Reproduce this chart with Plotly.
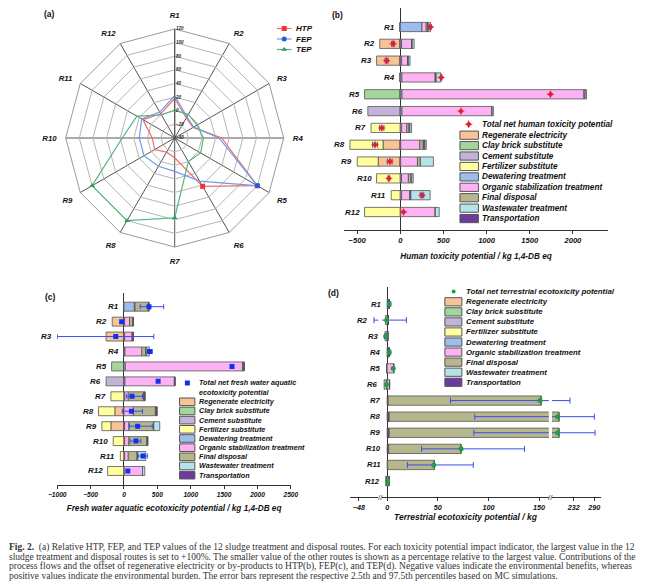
import plotly.graph_objects as go

# page has an 8px body margin: the figure is sized so it fits the 650x586 window
OFF = 8
W, H = 650 - OFF, 586 - OFF
def px(x): return (x - OFF) / W
def py(y): return 1 - (y - OFF) / H

ROUTES = [f"R{i}" for i in range(1, 13)]

# ---------------- (a) relative values (%) ----------------
rel_htp = [18, -6, -9, 29, 100, 42, -11, -16, -6, -7, 14, 1]
rel_fep = [22, -4, -8, 25, 100, 33, 9, 8, 12, 12, 16, 4]
rel_tep = [1, 0, -2, 2, 4, 0, 77, 100, 100, 37, 24, -1]
radial_ticks = [-40, -20, 0, 20, 40, 60, 80, 100, 120]

# ---------------- (b) HTP components ----------------
htp_regen = [0, -238, -275, 0, 0, 0, 0, -200, -256, 0, 0, 0]
htp_clay = [0, 0, 0, 0, -414, 0, 0, 0, 0, 0, 0, 0]
htp_cement = [0, 0, 0, 0, 0, -376, 0, 0, 0, 0, 0, 0]
htp_fert = [0, 0, 0, 0, 0, 0, -339, -384, -243, -275, -105, -414]
htp_dewater = [251, 15, 15, 19, 20, 20, 15, 5, 5, 15, 15, 5]
htp_organic = [49, 116, 71, 387, 2107, 1044, 60, 221, 194, 79, 98, 401]
htp_final = [15, 0, 0, 0, 16, 0, 26, 40, 34, 30, 0, 0]
htp_transport = [10, 8, 8, 10, 0, 0, 10, 20, 0, 8, 10, 0]
htp_wastewater = [25, 22, 19, 55, 15, 15, 20, 15, 151, 18, 223, 45]
htp_total = [350, -83, -158, 474, 1740, 703, -215, -293, -120, -132, 252, 38]
htp_err_lo = [342, -100, -175, 466, None, None, -240, -320, -150, -142, 232, None]
htp_err_hi = [358, -68, -142, 482, None, None, -190, -265, -95, -122, 272, None]

# ---------------- (c) FEP components ----------------
fep_regen = [0, -176, -268, 0, 0, 0, 0, -137, -196, 0, 0, 0]
fep_clay = [0, 0, 0, 0, -185, 0, 0, 0, 0, 0, 0, 0]
fep_cement = [0, 0, 0, 0, 0, -268, 0, 0, 0, 0, 0, 0]
fep_fert = [0, 0, 0, 0, 0, 0, -196, -244, -135, -161, -54, -245]
fep_dewater = [156, 10, 10, 15, 20, 15, 10, 0, 10, 10, 10, 5]
fep_organic = [10, 73, 111, 253, 1755, 741, 55, 141, 63, 63, 55, 273]
fep_final = [200, 50, 10, 59, 20, 0, 230, 330, 375, 268, 130, 0]
fep_transport = [10, 8, 10, 8, 5, 10, 20, 24, 0, 15, 8, 0]
fep_wastewater = [0, 0, 0, 45, 0, 0, 0, 0, 88, 0, 124, 34]
fep_total = [375, -35, -123, 384, 1618, 512, 121, 112, 205, 180, 287, 58]
fep_err_lo = [243, None, -996, 351, None, None, 35, -25, 83, 92, 214, None]
fep_err_hi = [595, None, 447, 424, None, None, 278, 278, 424, 253, 351, None]

# ---------------- (d) TEP components ----------------
tep_regen = [0, -1.5, 0, 0, 0, 0, 0, 0, 0, 0, 0, 0]
tep_clay = [0, 0, 0, 0, -0.5, 0, 0, 0, 0, 0, 0, 0]
tep_cement = [0, 0, -2, 0, 0, -3, 0, 0, 0, 0, 0, -1.5]
tep_fert = [0, 0, 0, 0, 0, 0, 0, 0, 0, 0, 0, 0]
tep_dewater = [1.5, 0, 0, 1, 0, 0, 0, 0, 0, 0, 0, 0]
tep_organic = [0, 0, 0, 0, 6.5, 2.4, 0, 0, 0, 0, 0, 2]
tep_final = [0, 0, 0, 0, 0, 0, 151, 188, 188, 71.5, 46, 0]
tep_transport = [0.5, 1, 0.5, 1, 0, 0, 1, 2, 2, 1.5, 0.5, 0]
tep_wastewater = [0, 0, 0, 0, 0, 0, 0, 0, 0, 0, 0, 0]
tep_total = [2, -0.5, -1.5, 2, 6, -0.6, 151, 186, 186, 73, 46, 0.5]
tep_err_lo = [0.5, -28, -2.5, 0.5, None, None, 62.5, 86.5, 85.6, 34, 20, None]
tep_err_hi = [3.5, 19, -0.5, 3.5, None, None, 221, 290, 292, 135.6, 85, None]

COMPONENTS = ['Regenerate electricity', 'Clay brick substitute', 'Cement substitute',
              'Fertilizer substitute', 'Dewatering treatment', 'Organic stabilization treatment',
              'Final disposal', 'Wastewater treatment', 'Transportation']
COLORS = {
    'Regenerate electricity': '#F8C396',
    'Clay brick substitute': '#A3D69B',
    'Cement substitute': '#C4B3D8',
    'Fertilizer substitute': '#FFFF9E',
    'Dewatering treatment': '#9DBDEE',
    'Organic stabilization treatment': '#FDB2F3',
    'Final disposal': '#B6B78C',
    'Wastewater treatment': '#B5E3E8',
    'Transportation': '#6B3C9E',
}

HTP = dict(zip(COMPONENTS, [htp_regen, htp_clay, htp_cement, htp_fert, htp_dewater,
                            htp_organic, htp_final, htp_wastewater, htp_transport]))
FEP = dict(zip(COMPONENTS, [fep_regen, fep_clay, fep_cement, fep_fert, fep_dewater,
                            fep_organic, fep_final, fep_wastewater, fep_transport]))
TEP = dict(zip(COMPONENTS, [tep_regen, tep_clay, tep_cement, tep_fert, tep_dewater,
                            tep_organic, tep_final, tep_wastewater, tep_transport]))

STACK_BC = ['Regenerate electricity', 'Clay brick substitute', 'Cement substitute',
            'Fertilizer substitute', 'Dewatering treatment', 'Organic stabilization treatment',
            'Final disposal', 'Transportation', 'Wastewater treatment']
STACK_D = ['Transportation', 'Regenerate electricity', 'Clay brick substitute', 'Cement substitute',
           'Fertilizer substitute', 'Dewatering treatment', 'Organic stabilization treatment',
           'Final disposal', 'Wastewater treatment']

FAM = 'Liberation Sans'
def f(size, color='#111'):
    return dict(family=FAM, size=size, color=color, weight='bold', style='italic')

ERR_COL = '#3A4BF0'
OUTLINE = '#555555'

fig = go.Figure()
annotations = []
shapes = []

# ---------------- (a) radar ----------------
def closed(v):
    return v + v[:1]

SERIES_A = [('HTP', rel_htp, '#F26B6B', '#EE3333', 'square'),
            ('FEP', rel_fep, '#6C9BEA', '#1F60DA', 'circle'),
            ('TEP', rel_tep, '#52B67C', '#2A9E5A', 'triangle-up')]
for name, vals, lc, mc, sym in SERIES_A:
    fig.add_trace(go.Scatterpolar(r=closed(vals), theta=closed(ROUTES), mode='lines+markers',
                                  line=dict(color=lc, width=1.2),
                                  marker=dict(color=mc, size=5, symbol=sym),
                                  name=name, showlegend=False, subplot='polar'))

fig.update_layout(polar=dict(
    domain=dict(x=[px(58), px(282)], y=[py(250), py(26)]),
    gridshape='linear', bgcolor='white',
    angularaxis=dict(type='category', categoryarray=ROUTES, direction='clockwise', rotation=90,
                     showline=True, linecolor='#999', linewidth=1, gridcolor='#555', gridwidth=1,
                     ticks='outside', ticklen=7, tickcolor='rgba(0,0,0,0)', tickfont=f(7.8)),
    radialaxis=dict(range=[-40, 120], tickvals=radial_ticks, ticksuffix='%', angle=90,
                    side='clockwise', showline=True, linecolor='#555', gridcolor='#b5b5b5',
                    ticks='', tickfont=f(4.5, '#222'), tickangle=90),
))

# ---------------- bars helper ----------------
def add_bars(data, order, xa, ya, width):
    for comp in order:
        fig.add_trace(go.Bar(x=data[comp], y=ROUTES, orientation='h', width=width,
                             marker=dict(color=COLORS[comp], line=dict(color=OUTLINE, width=0.8)),
                             xaxis=xa, yaxis=ya, showlegend=False, name=comp))

def add_totals(total, lo, hi, xa, ya, msym, mcol, msize, capw):
    idx = [i for i in range(12) if lo[i] is not None]
    fig.add_trace(go.Scatter(
        x=[total[i] for i in idx], y=[ROUTES[i] for i in idx], mode='markers',
        marker=dict(size=1, color='rgba(0,0,0,0)'),
        error_x=dict(type='data', symmetric=False,
                     array=[hi[i] - total[i] for i in idx],
                     arrayminus=[total[i] - lo[i] for i in idx],
                     color=ERR_COL, thickness=1, width=capw),
        xaxis=xa, yaxis=ya, showlegend=False, hoverinfo='skip'))
    fig.add_trace(go.Scatter(x=total, y=ROUTES, mode='markers',
                             marker=dict(symbol=msym, color=mcol, size=msize, line=dict(width=0)),
                             xaxis=xa, yaxis=ya, showlegend=False))

def label_pos(data, lo):
    out = []
    for i in range(12):
        neg = sum(v for v in (data[c][i] for c in COMPONENTS) if v < 0)
        m = min(0, neg)
        if lo[i] is not None:
            m = min(m, lo[i])
        out.append(m)
    return out

# (b)
add_bars(HTP, STACK_BC, 'x', 'y', 0.55)
add_totals(htp_total, htp_err_lo, htp_err_hi, 'x', 'y', 'star-diamond', '#E4202A', 6, 3)
for r, xv in zip(ROUTES, label_pos(HTP, htp_err_lo)):
    annotations.append(dict(x=xv, y=r, xref='x', yref='y', text=r, showarrow=False,
                            xanchor='right', xshift=-3, font=f(8)))
# (c)
add_bars(FEP, STACK_BC, 'x2', 'y2', 0.6)
add_totals(fep_total, fep_err_lo, fep_err_hi, 'x2', 'y2', 'square', '#1230F0', 5, 2.5)
for r, xv in zip(ROUTES, label_pos(FEP, fep_err_lo)):
    annotations.append(dict(x=xv, y=r, xref='x2', yref='y2', text=r, showarrow=False,
                            xanchor='right', xshift=-3, font=f(8)))
# (d) three axis segments
D_LEFT = [-60, -22]
D_MID = [-5, 159.6]
D_RIGHT = [170, 310]
for xa in ['x3', 'x4', 'x5']:
    add_bars(TEP, STACK_D, xa, 'y3', 0.58)
    add_totals(tep_total, tep_err_lo, tep_err_hi, xa, 'y3', 'circle', '#1FA040', 5, 3)
for r, xv in zip(ROUTES, label_pos(TEP, tep_err_lo)):
    xr = 'x4' if xv < D_MID[0] else 'x3'
    annotations.append(dict(x=xv, y=r, xref=xr, yref='y3', text=r, showarrow=False,
                            xanchor='right', xshift=-4, font=f(7.7)))

axis_common = dict(showgrid=False, ticks='outside', ticklen=3, tickcolor='#333', showline=True,
                   linecolor='#333', linewidth=1, mirror=False)
yaxis_common = dict(type='category', categoryarray=ROUTES, showgrid=False, showticklabels=False,
                    showline=False, zeroline=False, ticks='')

fig.update_layout(
    xaxis=dict(axis_common, domain=[px(344), px(615)], anchor='y', range=[-651, 2406],
               tickvals=[-500, 0, 500, 1000, 1500, 2000], tickfont=f(7.6),
               zeroline=True, zerolinecolor='#333', zerolinewidth=1,
               title=dict(text='Human toxicity potential / kg 1,4-DB eq', font=f(8.2), standoff=9)),
    yaxis=dict(yaxis_common, domain=[py(230), py(8)], anchor='x', range=[12.07, -1.13]),
    xaxis2=dict(axis_common, domain=[px(49.3), px(289.3)], anchor='y2', range=[-1000, 2500],
                tickvals=[-1000, -500, 0, 500, 1000, 1500, 2000, 2500], tickfont=f(6.6),
                zeroline=True, zerolinecolor='#333', zerolinewidth=1,
                title=dict(text='Fresh water aquatic ecotoxicity potential / kg 1,4-DB eq',
                           font=f(8.2), standoff=8)),
    yaxis2=dict(yaxis_common, domain=[py(485), py(292.7)], anchor='x2', range=[11.94, -0.937]),
    xaxis3=dict(axis_common, domain=[px(383), px(554.3)], anchor='y3', range=D_MID,
                tickvals=[0, 50, 100, 150], tickfont=f(7.2),
                zeroline=True, zerolinecolor='#333', zerolinewidth=1,
                title=dict(text='Terrestrial ecotoxicity potential / kg', font=f(8.5), standoff=2)),
    xaxis4=dict(axis_common, domain=[px(350), px(379.3)], anchor='y3', range=D_LEFT,
                tickvals=[-48], tickfont=f(7.2), zeroline=False),
    xaxis5=dict(axis_common, domain=[px(557.5), px(608.3)], anchor='y3', range=D_RIGHT,
                tickvals=[232, 290], tickfont=f(7.2), zeroline=False),
    yaxis3=dict(yaxis_common, domain=[py(497.3), py(287)], anchor='x3', range=[12.01, -1.057]),
    xaxis6=dict(domain=[0, 1], range=[OFF, 650], visible=False, anchor='y6', fixedrange=True),
    yaxis6=dict(domain=[0, 1], range=[586, OFF], visible=False, anchor='x6', fixedrange=True),
)

# axis break marks
for bx in [381.2, 555.9]:
    annotations.append(dict(x=px(bx), y=py(497.3), xref='paper', yref='paper', text='//',
                            showarrow=False, font=dict(family=FAM, size=8, color='#333'),
                            xanchor='center', yanchor='middle'))

# ---------------- custom legends ----------------
def box_legend(x0, x1, y_first, step, h, text_x, size):
    for i, name in enumerate(COMPONENTS):
        yc = y_first + i * step
        shapes.append(dict(type='rect', xref='paper', yref='paper', x0=px(x0), x1=px(x1),
                           y0=py(yc + h / 2), y1=py(yc - h / 2), fillcolor=COLORS[name],
                           line=dict(color=OUTLINE, width=1)))
        annotations.append(dict(x=px(text_x), y=py(yc), xref='paper', yref='paper', text=name,
                                showarrow=False, xanchor='left', yanchor='middle', font=f(size)))

# (a) legend
for i, (name, _, lc, mc, sym) in enumerate(SERIES_A):
    yy = 28.5 + i * 10.5
    fig.add_trace(go.Scatter(x=[275, 290], y=[yy, yy], mode='lines', line=dict(color=lc, width=1.2),
                             xaxis='x6', yaxis='y6', showlegend=False, hoverinfo='skip'))
    fig.add_trace(go.Scatter(x=[282.5], y=[yy], mode='markers',
                             marker=dict(color=mc, size=5, symbol=sym),
                             xaxis='x6', yaxis='y6', showlegend=False, hoverinfo='skip'))
    annotations.append(dict(x=px(293), y=py(yy), xref='paper', yref='paper', text=name,
                            showarrow=False, xanchor='left', yanchor='middle', font=f(8)))

# (b) legend
fig.add_trace(go.Scatter(x=[472], y=[124.3], mode='markers',
                         marker=dict(symbol='star-diamond', color='#E4202A', size=6),
                         xaxis='x6', yaxis='y6', showlegend=False, hoverinfo='skip'))
annotations.append(dict(x=px(484), y=py(124.3), xref='paper', yref='paper',
                        text='Total net human toxicity potential', showarrow=False,
                        xanchor='left', yanchor='middle', font=f(8.2)))
box_legend(463, 482, 135.2, 10.42, 8.2, 484, 8.2)

# (c) legend
fig.add_trace(go.Scatter(x=[183], y=[383], mode='markers',
                         marker=dict(symbol='square', color='#1230F0', size=5),
                         xaxis='x6', yaxis='y6', showlegend=False, hoverinfo='skip'))
annotations.append(dict(x=px(192.5), y=py(383), xref='paper', yref='paper',
                        text='Total net fresh water aquatic', showarrow=False,
                        xanchor='left', yanchor='middle', font=f(7.2)))
annotations.append(dict(x=px(192.5), y=py(392.3), xref='paper', yref='paper',
                        text='ecotoxicity potential', showarrow=False,
                        xanchor='left', yanchor='middle', font=f(7.2)))
box_legend(175, 190.7, 401.8, 9.17, 7.6, 192.5, 7.2)

# (d) legend
fig.add_trace(go.Scatter(x=[456.5], y=[291.5], mode='markers',
                         marker=dict(symbol='circle', color='#1FA040', size=4),
                         xaxis='x6', yaxis='y6', showlegend=False, hoverinfo='skip'))
annotations.append(dict(x=px(467.5), y=py(291.5), xref='paper', yref='paper',
                        text='Total net terrestrial ecotoxicity potential', showarrow=False,
                        xanchor='left', yanchor='middle', font=f(7.8)))
box_legend(447.5, 465, 301.8, 10.06, 8.2, 467.5, 7.8)

# panel labels
for t, x, y in [('(a)', 41, 14), ('(b)', 337, 15), ('(c)', 42, 297), ('(d)', 333, 293)]:
    annotations.append(dict(x=px(x), y=py(y), xref='paper', yref='paper', text=t, showarrow=False,
                            xanchor='center', yanchor='middle',
                            font=dict(family=FAM, size=8.5, color='#111', weight='bold')))

# caption
CAPTION = [
    "<b>Fig. 2.</b>  (a) Relative HTP, FEP, and TEP values of the 12 sludge treatment and disposal routes. For each toxicity potential impact indicator, the largest value in the 12",
    "sludge treatment and disposal routes is set to +100%. The smaller value of the other routes is shown as a percentage relative to the largest value. Contributions of the",
    "process flows and the offset of regenerative electricity or by-products to HTP(b), FEP(c), and TEP(d). Negative values indicate the environmental benefits, whereas",
    "positive values indicate the environmental burden. The error bars represent the respective 2.5th and 97.5th percentiles based on MC simulations.",
]
for i, line in enumerate(CAPTION):
    annotations.append(dict(x=px(14), y=py(547 + i * 9.8), xref='paper', yref='paper', text=line,
                            showarrow=False, xanchor='left', yanchor='middle', xshift=-16,
                            font=dict(family='Liberation Serif', size=9.5, color='#333')))

fig.update_layout(width=W, height=H, margin=dict(l=0, r=0, t=0, b=0),
                  paper_bgcolor='white', plot_bgcolor='rgba(0,0,0,0)',
                  barmode='relative', bargap=0.4, showlegend=False,
                  annotations=annotations, shapes=shapes)

fig.write_html("out.html")
